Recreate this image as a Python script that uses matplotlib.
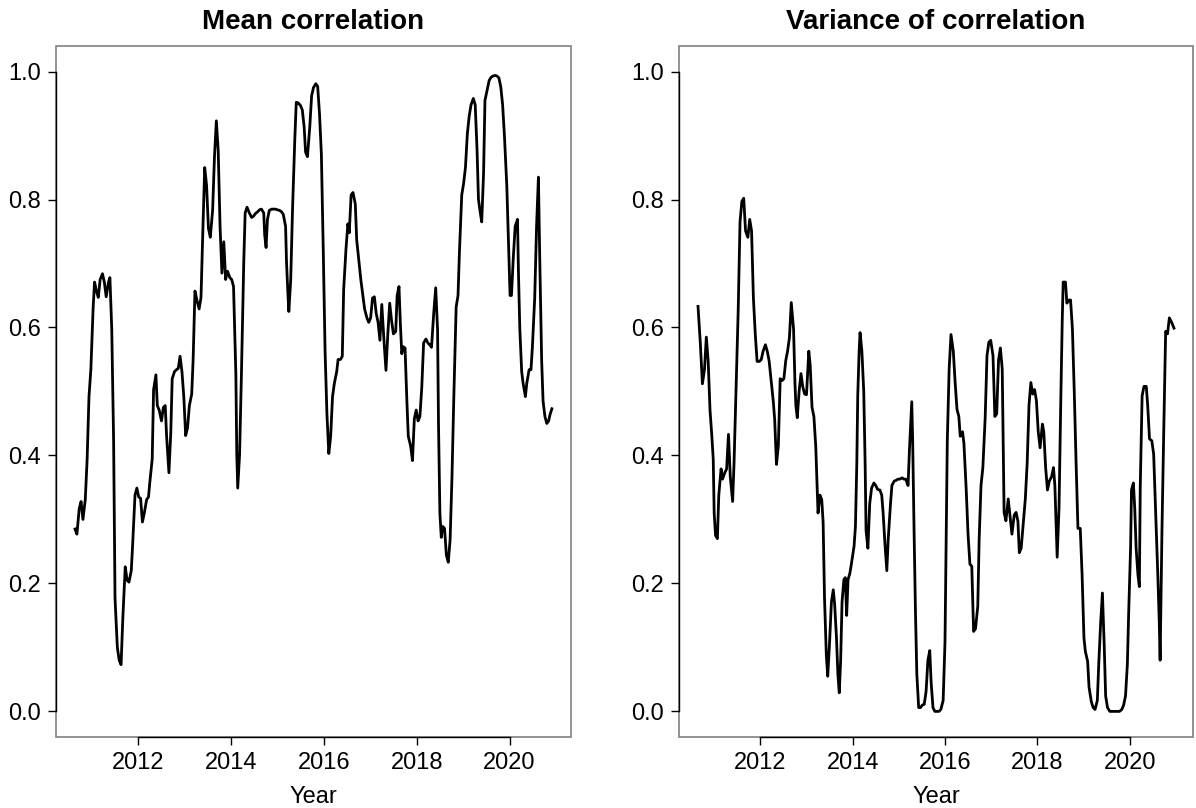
import matplotlib
matplotlib.use("Agg")
from matplotlib import pyplot as plt
from matplotlib.patches import Rectangle

# Rolling correlation summaries (decimal years)
mean_years = [
    2010.65, 2010.69, 2010.74, 2010.78, 2010.82, 2010.87, 2010.91, 2010.95, 2010.99, 2011.04,
    2011.07, 2011.11, 2011.15, 2011.19, 2011.24, 2011.28, 2011.32, 2011.37, 2011.40, 2011.44,
    2011.48, 2011.51, 2011.56, 2011.60, 2011.64, 2011.68, 2011.73, 2011.77, 2011.81, 2011.86,
    2011.89, 2011.94, 2011.98, 2012.02, 2012.06, 2012.10, 2012.14, 2012.19, 2012.23, 2012.26,
    2012.31, 2012.34, 2012.39, 2012.42, 2012.46, 2012.51, 2012.55, 2012.59, 2012.62, 2012.67,
    2012.71, 2012.74, 2012.79, 2012.83, 2012.87, 2012.91, 2012.95, 2012.99, 2013.03, 2013.07,
    2013.11, 2013.16, 2013.19, 2013.23, 2013.28, 2013.32, 2013.36, 2013.40, 2013.44, 2013.48,
    2013.52, 2013.56, 2013.61, 2013.65, 2013.69, 2013.73, 2013.77, 2013.81, 2013.85, 2013.89,
    2013.93, 2013.98, 2014.02, 2014.06, 2014.11, 2014.13, 2014.15, 2014.19, 2014.23, 2014.28,
    2014.31, 2014.35, 2014.40, 2014.45, 2014.49, 2014.53, 2014.58, 2014.62, 2014.66, 2014.71,
    2014.73, 2014.76, 2014.79, 2014.83, 2014.88, 2014.92, 2014.96, 2015.00, 2015.05, 2015.09,
    2015.13, 2015.18, 2015.20, 2015.23, 2015.25, 2015.29, 2015.33, 2015.38, 2015.41, 2015.45,
    2015.50, 2015.54, 2015.58, 2015.61, 2015.65, 2015.70, 2015.74, 2015.78, 2015.83, 2015.87,
    2015.91, 2015.95, 2015.99, 2016.03, 2016.07, 2016.11, 2016.15, 2016.19, 2016.23, 2016.28,
    2016.31, 2016.36, 2016.40, 2016.43, 2016.48, 2016.52, 2016.55, 2016.59, 2016.63, 2016.68,
    2016.71, 2016.76, 2016.80, 2016.85, 2016.88, 2016.93, 2016.97, 2017.01, 2017.05, 2017.09,
    2017.13, 2017.17, 2017.21, 2017.25, 2017.30, 2017.34, 2017.38, 2017.42, 2017.46, 2017.50,
    2017.55, 2017.58, 2017.62, 2017.65, 2017.68, 2017.71, 2017.75, 2017.79, 2017.82, 2017.87,
    2017.91, 2017.95, 2017.99, 2018.03, 2018.07, 2018.11, 2018.15, 2018.20, 2018.24, 2018.28,
    2018.32, 2018.37, 2018.41, 2018.45, 2018.47, 2018.50, 2018.53, 2018.56, 2018.60, 2018.64,
    2018.68, 2018.72, 2018.76, 2018.80, 2018.85, 2018.89, 2018.92, 2018.97, 2019.01, 2019.05,
    2019.09, 2019.13, 2019.17, 2019.22, 2019.26, 2019.30, 2019.33, 2019.37, 2019.40, 2019.44,
    2019.47, 2019.52, 2019.56, 2019.60, 2019.64, 2019.69, 2019.73, 2019.77, 2019.81, 2019.85,
    2019.89, 2019.94, 2019.98, 2020.01, 2020.04, 2020.08, 2020.12, 2020.17, 2020.19, 2020.22,
    2020.26, 2020.29, 2020.34, 2020.37, 2020.42, 2020.46, 2020.49, 2020.54, 2020.58, 2020.62,
    2020.65, 2020.69, 2020.72, 2020.76, 2020.80, 2020.84, 2020.87, 2020.91,
]
mean_corr = [
    0.285, 0.277, 0.317, 0.328, 0.300, 0.331, 0.394, 0.492, 0.534, 0.632,
    0.671, 0.657, 0.647, 0.675, 0.684, 0.671, 0.648, 0.671, 0.678, 0.597,
    0.422, 0.177, 0.100, 0.080, 0.073, 0.149, 0.226, 0.205, 0.202, 0.220,
    0.262, 0.338, 0.349, 0.335, 0.333, 0.296, 0.310, 0.331, 0.335, 0.359,
    0.394, 0.503, 0.526, 0.478, 0.471, 0.454, 0.475, 0.478, 0.430, 0.373,
    0.436, 0.520, 0.531, 0.534, 0.536, 0.555, 0.531, 0.492, 0.431, 0.443,
    0.478, 0.496, 0.548, 0.657, 0.640, 0.629, 0.647, 0.752, 0.850, 0.822,
    0.755, 0.741, 0.783, 0.867, 0.923, 0.877, 0.758, 0.685, 0.734, 0.675,
    0.688, 0.678, 0.675, 0.664, 0.527, 0.401, 0.349, 0.401, 0.527, 0.702,
    0.779, 0.788, 0.779, 0.772, 0.774, 0.778, 0.781, 0.784, 0.785, 0.779,
    0.745, 0.725, 0.769, 0.783, 0.785, 0.785, 0.785, 0.784, 0.783, 0.781,
    0.777, 0.758, 0.702, 0.653, 0.625, 0.674, 0.786, 0.898, 0.952, 0.951,
    0.947, 0.940, 0.913, 0.874, 0.867, 0.913, 0.962, 0.975, 0.981, 0.977,
    0.934, 0.871, 0.723, 0.562, 0.464, 0.403, 0.430, 0.492, 0.513, 0.531,
    0.550, 0.550, 0.555, 0.660, 0.723, 0.762, 0.748, 0.807, 0.811, 0.793,
    0.737, 0.702, 0.674, 0.646, 0.629, 0.615, 0.608, 0.615, 0.646, 0.648,
    0.622, 0.608, 0.580, 0.636, 0.576, 0.533, 0.590, 0.638, 0.611, 0.590,
    0.594, 0.650, 0.664, 0.605, 0.559, 0.570, 0.568, 0.485, 0.430, 0.415,
    0.392, 0.457, 0.471, 0.454, 0.461, 0.506, 0.576, 0.582, 0.576, 0.573,
    0.569, 0.625, 0.662, 0.597, 0.450, 0.310, 0.272, 0.289, 0.286, 0.244,
    0.233, 0.268, 0.366, 0.492, 0.632, 0.650, 0.717, 0.807, 0.825, 0.850,
    0.902, 0.930, 0.948, 0.958, 0.948, 0.877, 0.800, 0.779, 0.765, 0.842,
    0.955, 0.972, 0.986, 0.991, 0.993, 0.994, 0.993, 0.990, 0.976, 0.948,
    0.898, 0.821, 0.723, 0.650, 0.650, 0.710, 0.758, 0.769, 0.688, 0.597,
    0.531, 0.513, 0.492, 0.513, 0.534, 0.534, 0.569, 0.646, 0.758, 0.835,
    0.702, 0.548, 0.485, 0.461, 0.450, 0.454, 0.464, 0.473,
]

var_years = [
    2010.65, 2010.70, 2010.745, 2010.79, 2010.83, 2010.87, 2010.91, 2010.95, 2010.98, 2011.00,
    2011.03, 2011.07, 2011.10, 2011.15, 2011.18, 2011.23, 2011.27, 2011.31, 2011.35, 2011.40,
    2011.43, 2011.48, 2011.52, 2011.56, 2011.60, 2011.64, 2011.68, 2011.73, 2011.77, 2011.81,
    2011.85, 2011.89, 2011.93, 2011.98, 2012.02, 2012.06, 2012.11, 2012.15, 2012.19, 2012.24,
    2012.28, 2012.31, 2012.35, 2012.39, 2012.43, 2012.47, 2012.51, 2012.55, 2012.59, 2012.63,
    2012.67, 2012.72, 2012.75, 2012.77, 2012.80, 2012.84, 2012.88, 2012.92, 2012.96, 2013.00,
    2013.05, 2013.08, 2013.12, 2013.16, 2013.20, 2013.23, 2013.25, 2013.29, 2013.33, 2013.36,
    2013.39, 2013.43, 2013.46, 2013.50, 2013.54, 2013.58, 2013.61, 2013.65, 2013.68, 2013.71,
    2013.74, 2013.77, 2013.81, 2013.84, 2013.87, 2013.90, 2013.94, 2013.98, 2014.03, 2014.06,
    2014.09, 2014.11, 2014.14, 2014.16, 2014.20, 2014.24, 2014.27, 2014.29, 2014.33, 2014.37,
    2014.41, 2014.46, 2014.50, 2014.54, 2014.59, 2014.63, 2014.66, 2014.70, 2014.74, 2014.77,
    2014.82, 2014.85, 2014.90, 2014.94, 2014.98, 2015.02, 2015.07, 2015.11, 2015.15, 2015.20,
    2015.23, 2015.28, 2015.30, 2015.33, 2015.36, 2015.39, 2015.43, 2015.47, 2015.51, 2015.55,
    2015.59, 2015.63, 2015.67, 2015.70, 2015.74, 2015.78, 2015.83, 2015.87, 2015.91, 2015.96,
    2016.00, 2016.05, 2016.09, 2016.13, 2016.18, 2016.22, 2016.26, 2016.30, 2016.33, 2016.38,
    2016.41, 2016.46, 2016.50, 2016.54, 2016.58, 2016.62, 2016.66, 2016.71, 2016.74, 2016.78,
    2016.82, 2016.87, 2016.91, 2016.95, 2016.99, 2017.04, 2017.08, 2017.12, 2017.16, 2017.20,
    2017.24, 2017.28, 2017.32, 2017.37, 2017.41, 2017.45, 2017.50, 2017.54, 2017.58, 2017.61,
    2017.65, 2017.70, 2017.74, 2017.78, 2017.82, 2017.86, 2017.90, 2017.94, 2017.98, 2018.02,
    2018.06, 2018.11, 2018.14, 2018.18, 2018.22, 2018.26, 2018.31, 2018.35, 2018.38, 2018.43,
    2018.47, 2018.51, 2018.54, 2018.56, 2018.61, 2018.64, 2018.69, 2018.72, 2018.76, 2018.80,
    2018.84, 2018.88, 2018.93, 2018.97, 2019.01, 2019.04, 2019.09, 2019.12, 2019.17, 2019.21,
    2019.25, 2019.30, 2019.33, 2019.37, 2019.41, 2019.45, 2019.48, 2019.52, 2019.57, 2019.61,
    2019.65, 2019.70, 2019.74, 2019.78, 2019.83, 2019.87, 2019.91, 2019.95, 2019.98, 2020.02,
    2020.04, 2020.08, 2020.11, 2020.14, 2020.18, 2020.21, 2020.23, 2020.27, 2020.31, 2020.36,
    2020.39, 2020.43, 2020.48, 2020.52, 2020.56, 2020.61, 2020.64, 2020.66, 2020.70, 2020.74,
    2020.78, 2020.82, 2020.86, 2020.91, 2020.96,
]
var_corr = [
    0.633, 0.576, 0.512, 0.534, 0.585, 0.548, 0.471, 0.430, 0.394, 0.310,
    0.275, 0.270, 0.338, 0.379, 0.363, 0.373, 0.379, 0.433, 0.366, 0.328,
    0.387, 0.520, 0.625, 0.765, 0.797, 0.802, 0.751, 0.741, 0.769, 0.751,
    0.646, 0.590, 0.547, 0.547, 0.550, 0.563, 0.573, 0.563, 0.548, 0.513,
    0.485, 0.457, 0.386, 0.415, 0.520, 0.517, 0.520, 0.548, 0.563, 0.584,
    0.639, 0.597, 0.513, 0.478, 0.459, 0.500, 0.528, 0.507, 0.496, 0.495,
    0.563, 0.541, 0.475, 0.461, 0.415, 0.353, 0.310, 0.338, 0.331, 0.296,
    0.178, 0.087, 0.055, 0.108, 0.171, 0.190, 0.167, 0.114, 0.058, 0.029,
    0.080, 0.171, 0.206, 0.209, 0.150, 0.206, 0.216, 0.234, 0.258, 0.289,
    0.388, 0.493, 0.563, 0.592, 0.563, 0.500, 0.388, 0.283, 0.255, 0.325,
    0.349, 0.357, 0.353, 0.347, 0.346, 0.338, 0.310, 0.261, 0.220, 0.269,
    0.325, 0.353, 0.360, 0.361, 0.363, 0.363, 0.365, 0.363, 0.363, 0.353,
    0.409, 0.484, 0.423, 0.283, 0.157, 0.058, 0.006, 0.006, 0.010, 0.011,
    0.031, 0.080, 0.095, 0.045, 0.006, 0.000, 0.000, 0.000, 0.003, 0.017,
    0.108, 0.423, 0.535, 0.589, 0.563, 0.514, 0.472, 0.461, 0.430, 0.437,
    0.419, 0.346, 0.276, 0.230, 0.227, 0.125, 0.129, 0.164, 0.269, 0.353,
    0.381, 0.458, 0.556, 0.577, 0.580, 0.556, 0.461, 0.465, 0.549, 0.568,
    0.535, 0.311, 0.298, 0.332, 0.304, 0.277, 0.307, 0.311, 0.297, 0.248,
    0.255, 0.297, 0.332, 0.388, 0.479, 0.514, 0.496, 0.503, 0.486, 0.437,
    0.412, 0.449, 0.437, 0.381, 0.346, 0.360, 0.367, 0.381, 0.353, 0.241,
    0.318, 0.493, 0.612, 0.671, 0.671, 0.638, 0.643, 0.643, 0.598, 0.500,
    0.388, 0.286, 0.286, 0.213, 0.115, 0.094, 0.078, 0.038, 0.015, 0.006,
    0.003, 0.017, 0.073, 0.136, 0.185, 0.101, 0.024, 0.006, 0.000, 0.000,
    0.000, 0.000, 0.000, 0.000, 0.003, 0.010, 0.024, 0.073, 0.157, 0.255,
    0.346, 0.357, 0.318, 0.255, 0.213, 0.195, 0.353, 0.493, 0.508, 0.508,
    0.479, 0.426, 0.423, 0.402, 0.318, 0.213, 0.143, 0.080, 0.283, 0.444,
    0.594, 0.590, 0.615, 0.608, 0.599,
]

year_ticks = [2012, 2014, 2016, 2018, 2020]
corr_ticks = [0.0, 0.2, 0.4, 0.6, 0.8, 1.0]

plt.rcParams["font.family"] = ["Liberation Sans", "DejaVu Sans"]


def draw_panel(ax, years, values, title):
    ax.plot(years, values, color="black", linewidth=2.0)
    ax.margins(x=0.04)
    ax.set_ylim(-0.04, 1.04)

    # base-R look: grey frame, black axis lines only across the tick range
    for side in ["top", "right"]:
        ax.spines[side].set_visible(False)
    ax.add_patch(Rectangle((0, 0), 1, 1, transform=ax.transAxes, fill=False,
                           edgecolor="#808080", linewidth=1.2, clip_on=False, zorder=0))
    ax.spines["bottom"].set_bounds(year_ticks[0], year_ticks[-1])
    ax.spines["left"].set_bounds(corr_ticks[0], corr_ticks[-1])
    for side in ["bottom", "left"]:
        ax.spines[side].set_color("black")
        ax.spines[side].set_linewidth(1.0)

    ax.set_xticks(year_ticks)
    ax.set_yticks(corr_ticks)
    ax.set_yticklabels([f"{t:.1f}" for t in corr_ticks])
    ax.tick_params(direction="out", length=6, width=1.0, labelsize=17, pad=5)
    ax.set_xlabel("Year", fontsize=17, labelpad=8.5)
    ax.set_title(title, fontsize=20, fontweight="bold", pad=12)


fig = plt.figure(figsize=(11.96, 8.08), dpi=100)
ax1 = fig.add_axes([0.0468, 0.0879, 0.4306, 0.8552])
ax2 = fig.add_axes([0.5677, 0.0879, 0.4298, 0.8552])

draw_panel(ax1, mean_years, mean_corr, "Mean correlation")
draw_panel(ax2, var_years, var_corr, "Variance of correlation")

fig.savefig("out.png", dpi=100)
